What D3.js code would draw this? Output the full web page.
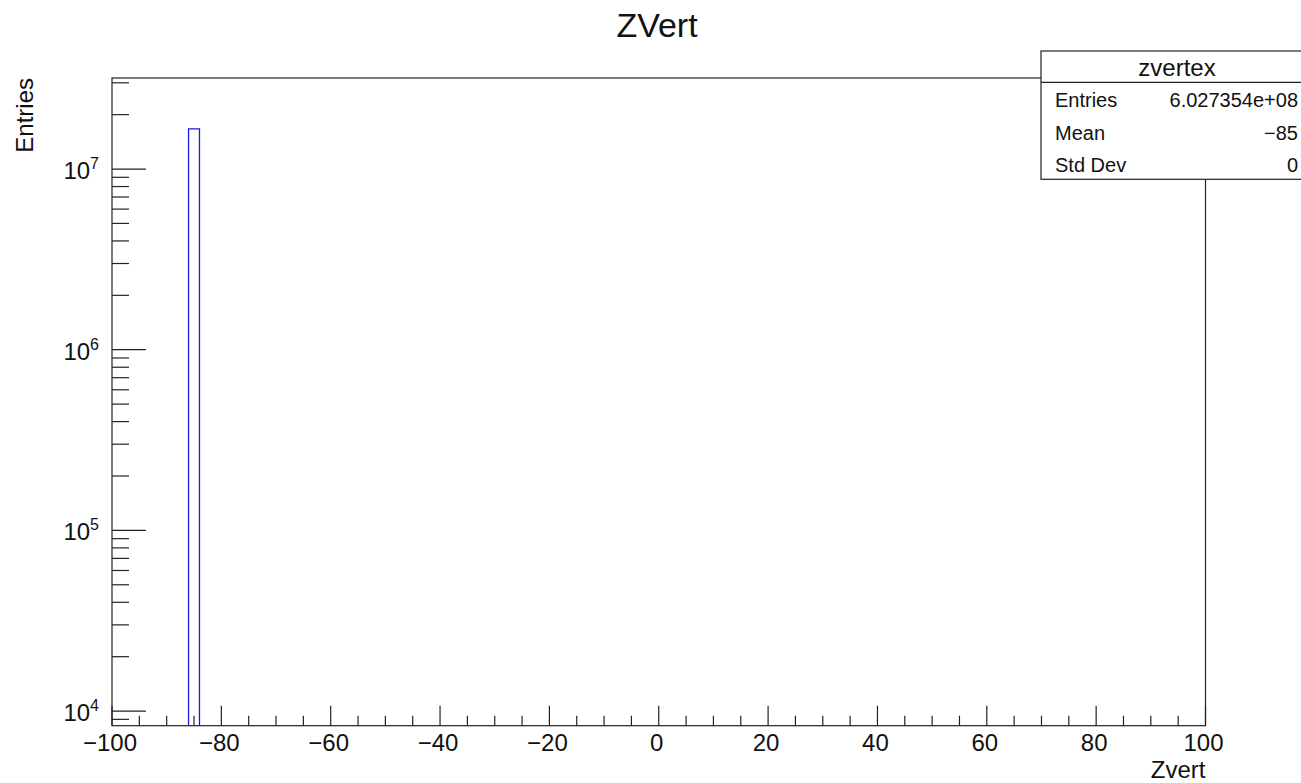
<!DOCTYPE html>
<html>
<head>
<meta charset="utf-8">
<script src="https://cdn.jsdelivr.net/npm/d3@7"></script>
<style>
  body { margin: 0; background: #fff; }
  svg { display: block; font-family: "Liberation Sans", Arial, sans-serif; }
</style>
</head>
<body>
<div id="containerDiv"></div>
<script>
// histogram bins that hold entries (all other bins are empty)
var binLow = [-86];
var binHigh = [-84];
var binCounts = [1.67e7];

var xTicks = [-100, -80, -60, -40, -20, 0, 20, 40, 60, 80, 100];
var yExponents = [4, 5, 6, 7];

var statsTitle = "zvertex";
var statsNames = ["Entries", "Mean", "Std Dev"];
var statsValues = ["6.027354e+08", "\u221285", "0"];

var w = 1301;
var h = 783;
// frame edges (named so they don't clash with window.top)
var fLeft = 112, fRight = 1205.5, fTop = 78, fBottom = 725.7;
var ink = "#222";

var svg = d3.select("#containerDiv")
            .append("svg")
            .attr("width", w)
            .attr("height", h);

var x = d3.scaleLinear().domain([-100, 100]).range([fLeft, fRight]);
var y = d3.scaleLog().domain([8300, 3.19e7]).range([fBottom, fTop]);

function fmt(v) { return v < 0 ? "\u2212" + Math.abs(v) : String(v); }

// frame
svg.append("rect")
   .attr("x", fLeft).attr("y", fTop)
   .attr("width", fRight - fLeft).attr("height", fBottom - fTop)
   .attr("fill", "none").attr("stroke", ink).attr("stroke-width", 1.2);

// x axis ticks: major every 20, minor every 5
var xMinor = d3.range(-100, 100.1, 5).filter(function(v) { return v % 20 != 0; });
var xAxis = svg.append("g");
xAxis.selectAll("line.major")
     .data(xTicks).enter().append("line")
     .attr("x1", function(d) { return x(d); }).attr("x2", function(d) { return x(d); })
     .attr("y1", fBottom).attr("y2", fBottom - 20)
     .attr("stroke", ink).attr("stroke-width", 1.2);
xAxis.selectAll("line.minor")
     .data(xMinor).enter().append("line")
     .attr("x1", function(d) { return x(d); }).attr("x2", function(d) { return x(d); })
     .attr("y1", fBottom).attr("y2", fBottom - 10)
     .attr("stroke", ink).attr("stroke-width", 1.2);
xAxis.selectAll("text")
     .data(xTicks).enter().append("text")
     .attr("x", function(d) { return x(d) - 2; })
     .attr("y", 751)
     .attr("text-anchor", "middle")
     .attr("font-size", "24px")
     .attr("fill", "#111")
     .text(fmt);

// y axis ticks (log): major at decades, minor at 2..9
var yMinor = [];
[3, 4, 5, 6, 7].forEach(function(e) {
  for (var k = 2; k <= 9; k++) {
    var v = k * Math.pow(10, e);
    if (v >= y.domain()[0] && v <= y.domain()[1]) yMinor.push(v);
  }
});
var yAxis = svg.append("g");
yAxis.selectAll("line.major")
     .data(yExponents).enter().append("line")
     .attr("x1", fLeft).attr("x2", fLeft + 34)
     .attr("y1", function(d) { return y(Math.pow(10, d)); })
     .attr("y2", function(d) { return y(Math.pow(10, d)); })
     .attr("stroke", ink).attr("stroke-width", 1.2);
yAxis.selectAll("line.minor")
     .data(yMinor).enter().append("line")
     .attr("x1", fLeft).attr("x2", fLeft + 17)
     .attr("y1", function(d) { return y(d); })
     .attr("y2", function(d) { return y(d); })
     .attr("stroke", ink).attr("stroke-width", 1.2);
var yLab = yAxis.selectAll("text")
     .data(yExponents).enter().append("text")
     .attr("x", 99)
     .attr("y", function(d) { return y(Math.pow(10, d)) + 10; })
     .attr("text-anchor", "end")
     .attr("fill", "#111");
yLab.append("tspan").attr("font-size", "24px").text("10");
yLab.append("tspan").attr("font-size", "16px").attr("dy", -10)
    .text(function(d) { return d; });

// histogram outline
var hist = svg.append("g");
hist.selectAll("path")
    .data(binCounts).enter().append("path")
    .attr("d", function(d, i) {
      return "M" + x(binLow[i]) + "," + fBottom +
             "V" + y(d) + "H" + x(binHigh[i]) + "V" + fBottom;
    })
    .attr("fill", "none")
    .attr("stroke", "#1a1ae0")
    .attr("stroke-width", 1.3);

// titles
svg.append("text")
   .attr("x", 657).attr("y", 37)
   .attr("text-anchor", "middle")
   .attr("font-size", "34px").attr("fill", "#111")
   .text("ZVert");
svg.append("text")
   .attr("x", fRight).attr("y", 778)
   .attr("text-anchor", "end")
   .attr("font-size", "24px").attr("fill", "#111")
   .text("Zvert");
svg.append("text")
   .attr("transform", "translate(33," + fTop + ") rotate(-90)")
   .attr("text-anchor", "end")
   .attr("font-size", "24px").attr("fill", "#111")
   .text("Entries");

// stats box
var stats = svg.append("g");
stats.append("rect")
     .attr("x", 1041).attr("y", 51)
     .attr("width", 270).attr("height", 128.3)
     .attr("fill", "#fff").attr("stroke", ink).attr("stroke-width", 1.2);
stats.append("line")
     .attr("x1", 1041).attr("x2", 1311).attr("y1", 82.3).attr("y2", 82.3)
     .attr("stroke", ink).attr("stroke-width", 1.2);
stats.append("text")
     .attr("x", 1177).attr("y", 76)
     .attr("text-anchor", "middle")
     .attr("font-size", "24px").attr("fill", "#111")
     .text(statsTitle);
stats.selectAll("text.name")
     .data(statsNames).enter().append("text")
     .attr("x", 1055)
     .attr("y", function(d, i) { return 107 + i * 32.5; })
     .attr("font-size", "20px").attr("fill", "#111")
     .text(function(d) { return d; });
stats.selectAll("text.value")
     .data(statsValues).enter().append("text")
     .attr("x", 1298)
     .attr("y", function(d, i) { return 107 + i * 32.5; })
     .attr("text-anchor", "end")
     .attr("font-size", "20px").attr("fill", "#111")
     .text(function(d) { return d; });
</script>
</body>
</html>
